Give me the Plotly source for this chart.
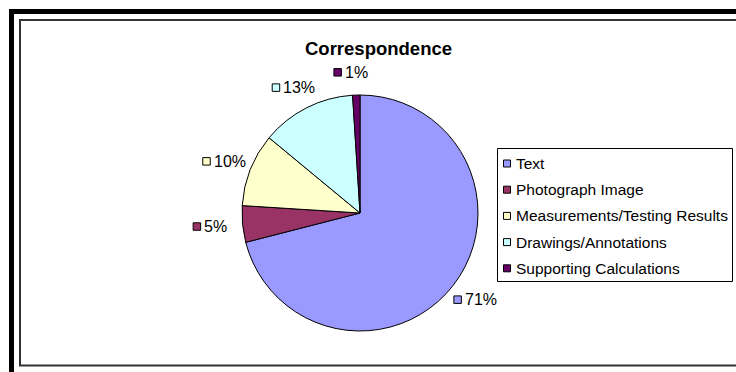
import math
import plotly.graph_objects as go

# ---- data ----
categories = ["Text", "Photograph Image", "Measurements/Testing Results",
              "Drawings/Annotations", "Supporting Calculations"]
values = [71, 5, 10, 13, 1]
colors = ["#9999FF", "#993366", "#FFFFCC", "#CCFFFF", "#660066"]
title_text = "Correspondence"

W, H = 736, 372
FONT = "Liberation Sans, Arial, sans-serif"

def px(x):
    return x / W

def py(y):
    return 1 - y / H

# pie geometry (pixels)
CX, CY, R = 360, 213, 118

fig = go.Figure()
fig.add_trace(go.Pie(
    labels=categories, values=values, sort=False, direction="clockwise",
    rotation=0, textinfo="none", hoverinfo="label+percent",
    marker=dict(colors=colors, line=dict(color="black", width=1)),
    domain=dict(x=[px(CX - R), px(CX + R)], y=[py(CY + R), py(CY - R)]),
    showlegend=False,
))

shapes = []
annotations = []

# outer frame & chart area border
shapes.append(dict(type="rect", xref="paper", yref="paper",
                   x0=px(11.5), y0=py(11.5), x1=px(760), y1=py(390),
                   line=dict(color="black", width=5), fillcolor="rgba(0,0,0,0)"))
shapes.append(dict(type="rect", xref="paper", yref="paper",
                   x0=px(20), y0=py(20), x1=px(760), y1=py(365.5),
                   line=dict(color="#333333", width=2), fillcolor="rgba(0,0,0,0)"))

# data labels (percent) placed around slice mid-angles
total = sum(values)
cum = 0.0
DX, DY = 146, 141
for v, c in zip(values, colors):
    mid = (cum + v / 2) / total * 2 * math.pi
    cum += v
    lx = CX + DX * math.sin(mid)
    ly = CY - DY * math.cos(mid)
    pct = f"{round(v / total * 100)}%"
    shapes.append(dict(type="rect", xref="paper", yref="paper",
                       x0=px(lx - 21.5), x1=px(lx - 14), y0=py(ly + 4), y1=py(ly - 3.5),
                       line=dict(color="black", width=1), fillcolor=c))
    annotations.append(dict(text=pct, x=px(lx - 12.5), y=py(ly), xref="paper", yref="paper",
                            xanchor="left", yanchor="middle", showarrow=False,
                            font=dict(family=FONT, size=16, color="black")))

# legend box
LX0, LX1, LY0, LY1 = 497.5, 732.5, 148.5, 281.5
shapes.append(dict(type="rect", xref="paper", yref="paper",
                   x0=px(LX0), x1=px(LX1), y0=py(LY0), y1=py(LY1),
                   line=dict(color="black", width=1), fillcolor="white"))
for i, (name, c) in enumerate(zip(categories, colors)):
    yy = 163.5 + i * 26.2
    shapes.append(dict(type="rect", xref="paper", yref="paper",
                       x0=px(503.5), x1=px(510.5), y0=py(yy + 3.5), y1=py(yy - 3.5),
                       line=dict(color="black", width=1), fillcolor=c))
    annotations.append(dict(text=name, x=px(513.5), y=py(yy), xref="paper", yref="paper",
                            xanchor="left", yanchor="middle", showarrow=False,
                            font=dict(family=FONT, size=15.5, color="black")))

# title
annotations.append(dict(text=f"<b>{title_text}</b>", x=px(378.5), y=py(48), xref="paper",
                        yref="paper", xanchor="center", yanchor="middle", showarrow=False,
                        font=dict(family=FONT, size=18.5, color="black")))

fig.update_layout(
    width=W, height=H, margin=dict(l=0, r=0, t=0, b=0),
    paper_bgcolor="white", plot_bgcolor="white",
    shapes=shapes, annotations=annotations,
)

fig.write_html("out.html", config={"displayModeBar": False})
